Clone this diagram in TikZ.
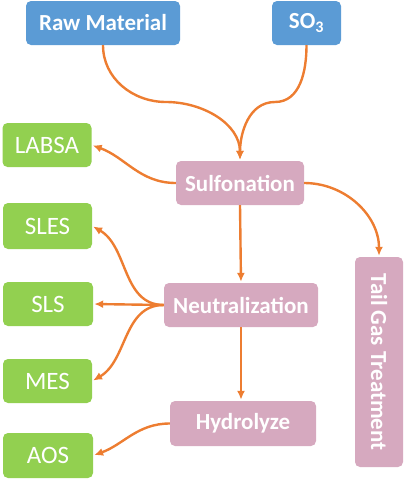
\documentclass[tikz,border=0pt]{standalone}
\usepackage{fontspec}
\setmainfont{Carlito}
\usetikzlibrary{arrows.meta}

\definecolor{srcblue}{HTML}{5B9BD5}
\definecolor{prodgreen}{HTML}{92D050}
\definecolor{procpink}{HTML}{D6A9BF}
\definecolor{flowor}{HTML}{ED7D31}

\tikzset{
  srcbox/.style={rectangle,rounded corners=5pt,fill=srcblue,text=white,
    minimum height=44pt,font=\fontsize{23}{27}\selectfont\bfseries},
  procbox/.style={rectangle,rounded corners=5pt,fill=procpink,text=white,
    minimum height=44pt,font=\fontsize{23}{27}\selectfont\bfseries},
  prodbox/.style={rectangle,rounded corners=5pt,fill=prodgreen,text=white,
    minimum width=89pt,minimum height=44pt,font=\fontsize{25}{29}\selectfont},
  flow/.style={draw=flowor,line width=2.4pt,shorten >=1pt,-{Latex[length=9pt,width=8pt]}}
}

\begin{document}
\begin{tikzpicture}[x=1pt,y=1pt]
            \useasboundingbox (0,0) rectangle (405,-490);
            % sources
            \node[srcbox,minimum width=154pt] (raw) at (103,-23) {Raw Material};
            \node[srcbox,minimum width=69pt] (so3) at (306.5,-23) {SO\textsubscript{3}};
            % process steps
            \node[procbox,minimum width=128pt] (sulf) at (240,-183) {Sulfonation};
            \node[procbox,minimum width=154pt] (neut) at (241,-305) {Neutralization};
            \node[procbox,minimum width=146pt,minimum height=45pt] (hyd) at (243,-423.5) {Hydrolyze};
            \node[procbox,rotate=-90,minimum width=210pt,minimum height=48pt] (tail) at (379,-362) {Tail Gas Treatment};
            % products
            \node[prodbox] (labsa) at (47,-145) {LABSA};
            \node[prodbox,minimum height=46pt] (sles) at (47.5,-226) {SLES};
            \node[prodbox,minimum width=90pt] (sls) at (48,-304) {SLS};
            \node[prodbox] (mes) at (47.5,-381) {MES};
            \node[prodbox,minimum width=90pt,minimum height=45pt] (aos) at (48,-455.5) {AOS};
            % bends of the feed lines
            \coordinate (rawbend) at (166,-102);
            \coordinate (so3bend) at (275,-102);
            \draw[flow] (raw.south) to[out=-90,in=180] (rawbend) to[out=0,in=90] (sulf.north);
            \draw[flow] (so3.south) to[out=-90,in=0] (so3bend) to[out=180,in=90] (sulf.north);
            \draw[flow] (sulf.west) to[out=180,in=-20] (labsa.east);
            \draw[flow] (sulf.east) to[out=0,in=90] (tail.west);
            \draw[flow] (sulf.south) -- (neut.north);
            \draw[flow] (neut.west) to[out=180,in=-30] (sles.east);
            \draw[flow] (neut.west) -- (sls.east);
            \draw[flow] (neut.west) to[out=180,in=30] (mes.east);
            \draw[flow] (neut.south) -- (neut.south |- hyd.north);
            \draw[flow] (hyd.west) to[out=180,in=20] (aos.east);
        \end{tikzpicture}
\end{document}
